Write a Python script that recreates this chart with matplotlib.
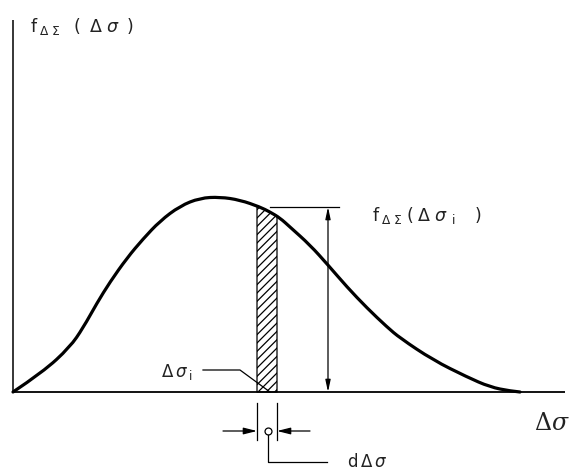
import numpy as np
import matplotlib.pyplot as plt
from matplotlib.path import Path
from matplotlib.patches import PathPatch

# Curve (x = stress range, y = density, arbitrary units)
stress = [0, 30, 57, 70, 84, 97, 114, 130, 147, 167, 187, 207, 227, 247,
          257, 267, 277, 297, 315, 334, 354, 374, 387, 420, 454, 477, 497, 507]
density = [0, 20, 45, 64, 89, 110, 134, 153, 171, 186, 194, 195, 192, 185,
           180, 174, 165, 147, 127, 105, 84, 65, 54, 32, 15, 5, 1, 0]

# hatched strip at delta sigma_i, width d(delta sigma)
strip_x = [244, 264]
strip_top = [186, 176]

# reference level f(delta sigma_i) and its dimension line
level_y = 185
level_x = [257, 326]
dim_x = 315

ink = 'black'
txt = '#222222'

plt.rcParams['mathtext.fontset'] = 'dejavusans'
plt.rcParams['hatch.linewidth'] = 0.9

fig = plt.figure(figsize=(5.72, 4.74), dpi=100)
ax = fig.add_axes([0, 0, 1, 1])
ax.set_xlim(-13, 559)
ax.set_ylim(-82, 392)
ax.axis('off')

# axes of the diagram
ax.plot([0, 0], [0, 372], color=ink, lw=1.1, solid_capstyle='butt')
ax.plot([0, 552], [0, 0], color=ink, lw=1.3, solid_capstyle='butt')

# density curve: read points used as quadratic control points for a smooth line
pts = np.column_stack([stress, density]).astype(float)
verts = [pts[0]]
codes = [Path.MOVETO]
for i in range(1, len(pts) - 1):
    mid = (pts[i] + pts[i + 1]) / 2 if i < len(pts) - 2 else pts[i + 1]
    verts += [pts[i], mid]
    codes += [Path.CURVE3, Path.CURVE3]
ax.add_patch(PathPatch(Path(verts, codes), facecolor='none', edgecolor=ink,
                       lw=2.3, capstyle='round'))

# hatched strip
ax.fill_between(strip_x, [0, 0], strip_top, facecolor='none', edgecolor=ink,
                hatch='////', lw=0.9)

# level line and vertical dimension
ax.plot(level_x, [level_y, level_y], color=ink, lw=0.9)
ax.annotate('', xy=(dim_x, level_y), xytext=(dim_x, 0),
            arrowprops=dict(arrowstyle='<|-|>,head_length=0.7,head_width=0.15',
                            color=ink, lw=0.9, shrinkA=0, shrinkB=0))

# leader for delta sigma_i
ax.plot([190, 227, 257], [22, 22, 0], color=ink, lw=0.9)
ax.text(180, 20, r'$\Delta\,\sigma_{\;\mathrm{i}}$', fontsize=12, color=txt,
        ha='right', va='center')

# d delta sigma dimension below the axis
for xe in strip_x:
    ax.plot([xe, xe], [-11, -48], color=ink, lw=0.9)
ax.annotate('', xy=(strip_x[0], -39), xytext=(210, -39),
            arrowprops=dict(arrowstyle='-|>,head_length=0.8,head_width=0.2',
                            color=ink, lw=0.9, shrinkA=0, shrinkB=0))
ax.annotate('', xy=(strip_x[1], -39), xytext=(297, -39),
            arrowprops=dict(arrowstyle='-|>,head_length=0.8,head_width=0.2',
                            color=ink, lw=0.9, shrinkA=0, shrinkB=0))
ax.plot([255], [-39], marker='o', ms=5, mfc='white', mec=ink, mew=0.9)
ax.plot([255, 255, 314], [-43, -70, -70], color=ink, lw=0.9)
ax.text(334, -70, r'$\mathrm{d}\,\Delta\,\sigma$', fontsize=12, color=txt,
        ha='left', va='center')

# labels
ax.text(17, 366,
        r'$\mathrm{f}_{\;\Delta\;\Sigma}\;\;\;(\;\;\Delta\;\sigma\;\;)$',
        fontsize=12.5, color=txt, ha='left', va='center')
ax.text(359, 177,
        r'$\mathrm{f}_{\;\Delta\;\Sigma}\;(\;\Delta\;\sigma_{\;\;\mathrm{i}}\;\;\;\;)$',
        fontsize=12.5, color=txt, ha='left', va='center')
ax.text(521, -31, r'$\Delta\sigma$', fontsize=17, color=txt,
        ha='left', va='center', math_fontfamily='dejavuserif')

fig.savefig('out.png', dpi=100, facecolor='white')
